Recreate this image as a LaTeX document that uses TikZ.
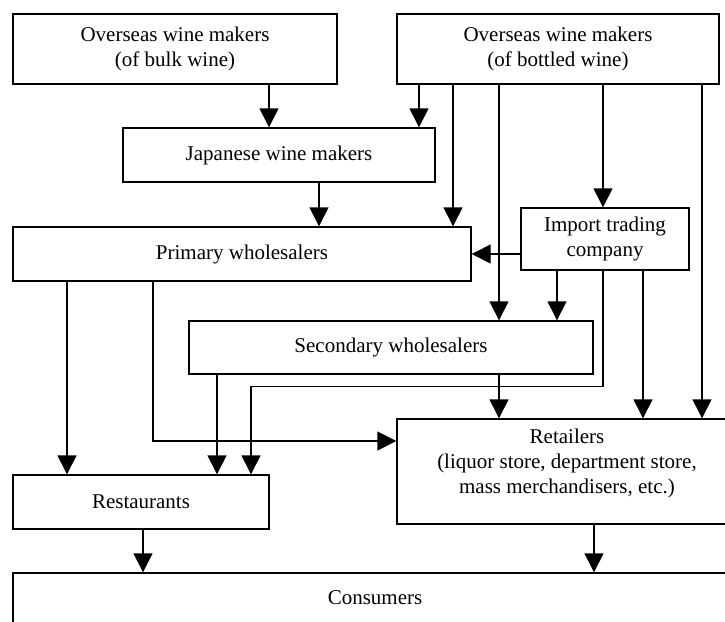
\documentclass[tikz,border=0pt]{standalone}
\usepackage{fontspec}
\setmainfont{Liberation Serif}
\usetikzlibrary{arrows.meta}

\begin{document}
\begin{tikzpicture}[x=1pt,y=1pt]
	\tikzstyle{every node}+=[inner sep=0pt, font=\fontsize{21}{25}\selectfont]
	\tikzstyle{box}=[draw=black, line width=1.4pt, align=center]
	\tikzstyle{arr}=[black, line width=1.4pt, -{Triangle[length=19pt,width=19pt]}]
	\useasboundingbox (0,0) rectangle (725,-621);
	\clip (0,0) rectangle (725,-621);
	\node [box, minimum width=324pt, minimum height=70pt] (bulk) at (175,-49) {Overseas wine makers\\(of bulk wine)};
	\node [box, minimum width=322pt, minimum height=70pt] (bottled) at (558,-49) {Overseas wine makers\\(of bottled wine)};
	\node [box, minimum width=312pt, minimum height=54pt] (japan) at (279,-155) {Japanese wine makers};
	\node [box, minimum width=458pt, minimum height=54pt] (prim) at (242,-254) {Primary wholesalers};
	\node [box, minimum width=168pt, minimum height=62pt] (imp) at (605,-239) {Import trading\\company};
	\node [box, minimum width=404pt, minimum height=53pt] (sec) at (391,-347.5) {Secondary wholesalers};
	\node [box, minimum width=340pt, minimum height=105pt] (retail) at (567,-471.5) {};
	\node [align=center, anchor=north] (retailtxt) at ([yshift=-10pt]retail.north) {Retailers\\(liquor store, department store,\\mass merchandisers, etc.)};
	\node [box, minimum width=256pt, minimum height=54pt] (rest) at (141,-502) {Restaurants};
	\node [box, minimum width=724pt, minimum height=50pt] (cons) at (375,-598) {Consumers};
	\draw [arr] (bulk.south -| 269,0) -- (japan.north -| 269,0);
	\draw [arr] (bottled.south -| 419,0) -- (japan.north -| 419,0);
	\draw [arr] (bottled.south -| 453,0) -- (prim.north -| 453,0);
	\draw [arr] (bottled.south -| 499,0) -- (sec.north -| 499,0);
	\draw [arr] (bottled.south -| 603,0) -- (imp.north -| 603,0);
	\draw [arr] (bottled.south -| 702,0) -- (retail.north -| 702,0);
	\draw [arr] (japan.south -| 319,0) -- (prim.north -| 319,0);
	\draw [arr] (imp.west |- prim.east) -- (prim.east);
	\draw [arr] (imp.south -| 557,0) -- (sec.north -| 557,0);
	\draw [arr] (imp.south -| 603,0) -- ++(0,-116) -| (rest.north -| 251,0);
	\draw [arr] (imp.south -| 643,0) -- (retail.north -| 643,0);
	\draw [arr] (prim.south -| 67,0) -- (rest.north -| 67,0);
	\draw [arr] (prim.south -| 153,0) |- (retail.west |- 0,-441);
	\draw [arr] (sec.south -| 217,0) -- (rest.north -| 217,0);
	\draw [arr] (sec.south -| 499,0) -- (retail.north -| 499,0);
	\draw [arr] (rest.south -| 143,0) -- (cons.north -| 143,0);
	\draw [arr] (retail.south -| 594,0) -- (cons.north -| 594,0);
\end{tikzpicture}
\end{document}
